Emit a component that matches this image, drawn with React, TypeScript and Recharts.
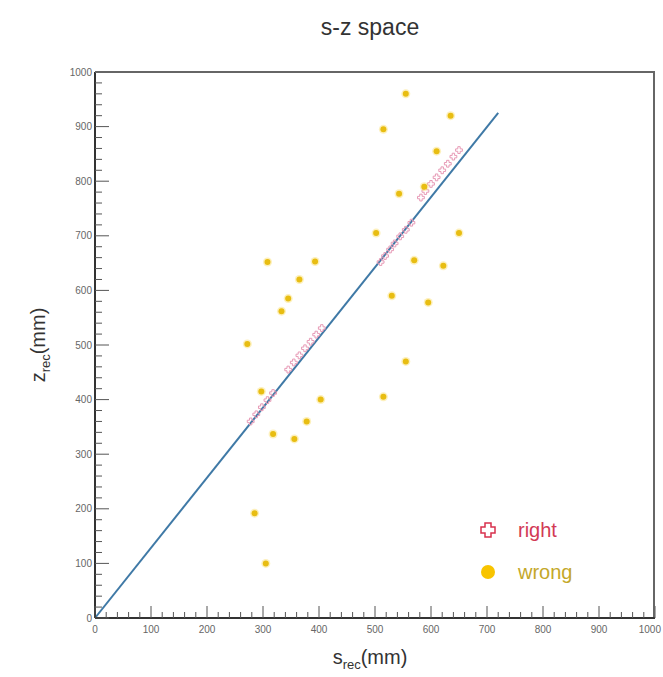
import React from 'react';
import { ScatterChart, Scatter, XAxis, YAxis, ReferenceLine } from 'recharts';

// "right" hits (open crosses), along the fitted track
const rightS = [278, 288, 298, 308, 318, 345, 355, 365, 375, 385, 395, 405, 510, 518, 527, 535, 545, 555, 565, 582, 590, 600, 610, 620, 630, 640, 650];
const rightZ = [360, 373, 386, 399, 412, 455, 468, 481, 494, 506, 519, 531, 652, 663, 675, 686, 699, 711, 724, 770, 782, 795, 807, 820, 832, 845, 857];

// "wrong" hits (filled circles)
const wrongS = [555, 515, 635, 610, 588, 543, 502, 650, 570, 622, 530, 595, 555, 515, 308, 393, 365, 345, 333, 272, 297, 403, 378, 318, 356, 285, 305];
const wrongZ = [960, 895, 920, 855, 790, 777, 705, 705, 655, 645, 590, 578, 470, 405, 652, 653, 620, 585, 562, 502, 415, 400, 360, 337, 328, 192, 100];

// fitted line end points
const fitS = [0, 720];
const fitZ = [0, 925];

const majorTickLabels = ['0', '100', '200', '300', '400', '500', '600', '700', '800', '900', '1000'];
const minorStep = 20;

const axisTicks: number[] = [];
for (let v = 0; v <= 1000; v += minorStep) axisTicks.push(v);

const rightData = rightS.map((s, i) => ({ s, z: rightZ[i] }));
const wrongData = wrongS.map((s, i) => ({ s, z: wrongZ[i] }));

const FONT = '"Liberation Sans", Arial, Helvetica, sans-serif';
const TICK_COLOR = '#666';

const isMajor = (v: number) => majorTickLabels.includes(String(v));

const YTick = (props: any) => {
  const { x, y, payload } = props;
  const v = payload.value;
  const major = isMajor(v);
  return (
    <g>
      <line x1={x} y1={y} x2={x + (major ? 14 : 7)} y2={y} stroke="#555" strokeWidth={1} />
      {major && (
        <text x={x - 3} y={y + 3.5} textAnchor="end" fontSize={10} fill={TICK_COLOR} fontFamily={FONT}>
          {v}
        </text>
      )}
    </g>
  );
};

const XTick = (props: any) => {
  const { x, y, payload } = props;
  const v = payload.value;
  const major = isMajor(v);
  const last = v === 1000;
  return (
    <g>
      <line x1={x} y1={y} x2={x} y2={y - (major ? 12 : 6)} stroke="#555" strokeWidth={1} />
      {major && (
        <text
          x={last ? x + 6 : x}
          y={y + 15}
          textAnchor={last ? 'end' : 'middle'}
          fontSize={10}
          fill={TICK_COLOR}
          fontFamily={FONT}
        >
          {v}
        </text>
      )}
    </g>
  );
};

const CrossShape = (props: any) => {
  const { cx, cy } = props;
  if (cx == null || cy == null) return null;
  const a = 1.2;
  const b = 3.4;
  const d = `M${cx - a},${cy - b} L${cx + a},${cy - b} L${cx + a},${cy - a} L${cx + b},${cy - a} L${cx + b},${cy + a} L${cx + a},${cy + a} L${cx + a},${cy + b} L${cx - a},${cy + b} L${cx - a},${cy + a} L${cx - b},${cy + a} L${cx - b},${cy - a} L${cx - a},${cy - a} Z`;
  return <path d={d} fill="none" stroke="#e79ab6" strokeWidth={1} />;
};

const DotShape = (props: any) => {
  const { cx, cy } = props;
  if (cx == null || cy == null) return null;
  return (
    <g>
      <circle cx={cx} cy={cy} r={4.5} fill="#fbe27a" opacity={0.5} />
      <circle cx={cx} cy={cy} r={3} fill="#e8bd12" />
    </g>
  );
};

export default function App() {
  return (
    <div style={{ position: 'absolute', left: 0, top: 0, width: 663, height: 677, background: '#fff', fontFamily: FONT }}>
      <ScatterChart width={663} height={677} margin={{ top: 72, right: 8, bottom: 0, left: 0 }}>
        <XAxis
          type="number"
          dataKey="s"
          domain={[0, 1000]}
          ticks={axisTicks}
          interval={0}
          tickSize={0}
          tickMargin={0}
          tickLine={false}
          height={59}
          axisLine={{ stroke: '#333', strokeWidth: 2 }}
          tick={<XTick />}
          allowDataOverflow
        />
        <YAxis
          type="number"
          dataKey="z"
          domain={[0, 1000]}
          ticks={axisTicks}
          interval={0}
          tickSize={0}
          tickMargin={0}
          tickLine={false}
          width={95}
          axisLine={{ stroke: '#333', strokeWidth: 2 }}
          tick={<YTick />}
          allowDataOverflow
        />
        <ReferenceLine
          segment={[{ x: fitS[0], y: fitZ[0] }, { x: fitS[1], y: fitZ[1] }]}
          stroke="#3f79a6"
          strokeWidth={2}
          ifOverflow="visible"
        />
        <Scatter name="right" data={rightData} shape={<CrossShape />} isAnimationActive={false} />
        <Scatter name="wrong" data={wrongData} shape={<DotShape />} isAnimationActive={false} />
      </ScatterChart>

      {/* frame top / right */}
      <div
        style={{
          position: 'absolute',
          left: 95,
          top: 71,
          width: 560,
          height: 546,
          borderTop: '2px solid #666',
          borderRight: '2px solid #666',
          boxSizing: 'border-box',
          pointerEvents: 'none',
        }}
      />

      {/* title */}
      <div style={{ position: 'absolute', left: 0, width: 740, top: 14, textAlign: 'center', fontSize: 23, color: '#333' }}>
        s-z space
      </div>

      {/* x title */}
      <div style={{ position: 'absolute', left: 0, width: 740, top: 646, textAlign: 'center', fontSize: 20, color: '#333' }}>
        s<sub style={{ fontSize: 13 }}>rec</sub>(mm)
      </div>

      {/* y title */}
      <div
        style={{
          position: 'absolute',
          left: 40,
          top: 345,
          transform: 'translate(-50%, -50%) rotate(-90deg)',
          fontSize: 20,
          color: '#333',
          whiteSpace: 'nowrap',
        }}
      >
        z<sub style={{ fontSize: 13 }}>rec</sub>(mm)
      </div>

      {/* legend */}
      <div style={{ position: 'absolute', left: 478, top: 516, fontSize: 20, lineHeight: '28px' }}>
        <div style={{ display: 'flex', alignItems: 'center', height: 28 }}>
          <svg width={20} height={20} style={{ marginRight: 20 }}>
            <path
              d="M7,3 L13,3 L13,7 L17,7 L17,13 L13,13 L13,17 L7,17 L7,13 L3,13 L3,7 L7,7 Z"
              fill="none"
              stroke="#d8304c"
              strokeWidth={1.5}
            />
          </svg>
          <span style={{ color: '#d23a55' }}>right</span>
        </div>
        <div style={{ display: 'flex', alignItems: 'center', height: 28, marginTop: 14 }}>
          <svg width={20} height={20} style={{ marginRight: 20 }}>
            <circle cx={10} cy={10} r={7} fill="#f8c400" />
          </svg>
          <span style={{ color: '#c4a82a' }}>wrong</span>
        </div>
      </div>
    </div>
  );
}
